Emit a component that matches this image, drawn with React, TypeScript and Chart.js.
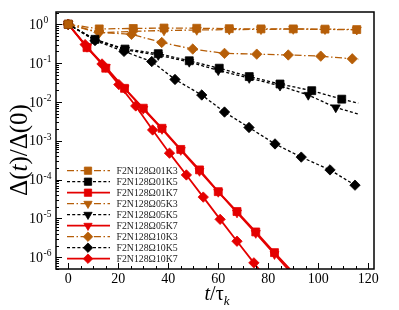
import { useEffect, useRef } from 'react';
import { Chart, registerables } from 'chart.js';
import { drawPoint } from 'chart.js/helpers';
Chart.register(...registerables);

// ---------------- data ----------------
const seriesNames = [
  'F2N128Ω01K3', 'F2N128Ω01K5', 'F2N128Ω01K7',
  'F2N128Ω05K3', 'F2N128Ω05K5', 'F2N128Ω05K7',
  'F2N128Ω10K3', 'F2N128Ω10K5', 'F2N128Ω10K7',
];

// Ω01
const tO01K3 = [0, 12.4, 26, 38.3, 51.4, 64.4, 77.1, 90, 102.7, 115.4];
const vO01K3 = [1, 0.76, 0.78, 0.8, 0.79, 0.77, 0.76, 0.76, 0.75, 0.73];
const tO01K5 = [0, 10.7, 22.7, 36, 48.4, 60.4, 72.4, 84.7, 97.4, 109.4, 116];
const vO01K5 = [1, 0.41, 0.23, 0.175, 0.115, 0.074, 0.045, 0.029, 0.0195, 0.0118, 0.0093];
const tO01K7 = [0, 7.5, 15, 22.5, 30, 37.5, 45, 52.5, 60, 67.5, 75, 82.5, 90];
const vO01K7 = [1, 0.25, 0.074, 0.0224, 0.0069, 0.0021, 6.0e-4, 1.78e-4, 4.9e-5, 1.51e-5, 4.5e-6, 1.32e-6, 4.0e-7];

// Ω05
const tO05K3 = [0, 12.4, 26, 38.3, 51.4, 64.4, 77.1, 90, 102.7, 115.4];
const vO05K3 = [1, 0.6, 0.66, 0.69, 0.71, 0.73, 0.74, 0.75, 0.74, 0.72];
const tO05K5 = [0, 10.7, 22.7, 36, 48.4, 60, 72.4, 84.7, 96, 107, 116];
const vO05K5 = [1, 0.4, 0.22, 0.16, 0.107, 0.065, 0.041, 0.026, 0.0151, 0.0072, 0.0049];
const tO05K7 = [0, 7.5, 15, 22.5, 30, 37.5, 45, 52.5, 60, 67.5, 75, 82.5, 90];
const vO05K7 = [1, 0.26, 0.079, 0.0224, 0.0066, 0.002, 5.75e-4, 1.66e-4, 4.8e-5, 1.41e-5, 4.2e-6, 1.2e-6, 3.5e-7];

// Ω10
const tO10K3 = [0, 12.3, 25.3, 37.4, 49.8, 62.5, 75.4, 88, 101, 113.6, 116];
const vO10K3 = [1, 0.62, 0.55, 0.34, 0.23, 0.178, 0.17, 0.162, 0.151, 0.129, 0.124];
const tO10K5 = [0, 10.7, 22.3, 33.4, 42.7, 53.4, 62.5, 72.3, 82.7, 93.2, 104.7, 114.7];
const vO10K5 = [1, 0.38, 0.2, 0.11, 0.038, 0.0151, 0.0055, 0.0022, 8.3e-4, 3.8e-4, 1.78e-4, 7.2e-5];
const tO10K7 = [0, 6.75, 13.5, 20.25, 27, 33.75, 40.5, 47.25, 54, 60.75, 67.5, 74.25, 81];
const vO10K7 = [1, 0.3, 0.095, 0.028, 0.0079, 0.0019, 4.8e-4, 1.32e-4, 3.55e-5, 9.5e-6, 2.6e-6, 7.2e-7, 2.0e-7];

// number of leading points that carry a marker (rest are line-only)
const markedCount = [10, 10, 12, 10, 10, 12, 10, 12, 12];

const xTicks = [0, 20, 40, 60, 80, 100, 120];
const yDecades = [0, -1, -2, -3, -4, -5, -6];

const BROWN = 'rgb(182,94,8)';
const BLACK = '#000000';
const RED = 'rgb(228,0,0)';

const times = [tO01K3, tO01K5, tO01K7, tO05K3, tO05K5, tO05K7, tO10K3, tO10K5, tO10K7];
const values = [vO01K3, vO01K5, vO01K7, vO05K3, vO05K5, vO05K7, vO10K3, vO10K5, vO10K7];

const kColors = [BROWN, BLACK, RED];
const kDash = [[7, 2.5, 1.5, 2.5], [3, 2.2], []];
const kWidth = [1.3, 1.3, 1.8];
const omegaStyle = [
  { pointStyle: 'rect', radius: 5.6, rotation: 0 },
  { pointStyle: 'triangle', radius: 5.2, rotation: 180 },
  { pointStyle: 'rectRot', radius: 5.2, rotation: 0 },
];

const SERIF = '"Liberation Serif", "Times New Roman", serif';

export default function App() {
  const ref = useRef<HTMLCanvasElement | null>(null);
  useEffect(() => {
    const canvas = ref.current;
    if (!canvas) return;

    const datasets = seriesNames.map((name, i) => {
      const om = Math.floor(i / 3);
      const k = i % 3;
      const st = omegaStyle[om];
      const radii = times[i].map((_, j) => (j < markedCount[i] ? st.radius : 0));
      return {
        label: name,
        data: times[i].map((x, j) => ({ x, y: values[i][j] })),
        borderColor: kColors[k],
        backgroundColor: kColors[k],
        borderWidth: kWidth[k],
        borderDash: kDash[k],
        pointStyle: st.pointStyle,
        pointRotation: st.rotation,
        pointRadius: radii,
        pointBorderWidth: 0.8,
        pointBorderColor: kColors[k],
        pointBackgroundColor: kColors[k],
        pointHoverRadius: radii,
        tension: 0,
        fill: false,
      } as any;
    });

    const decorPlugin = {
      id: 'decor',
      afterDraw(chart: any) {
        const ctx: CanvasRenderingContext2D = chart.ctx;
        const { left, right, top, bottom } = chart.chartArea;
        const xs = chart.scales.x;
        const ys = chart.scales.y;
        ctx.save();
        // frame
        ctx.strokeStyle = '#000';
        ctx.lineWidth = 1.5;
        ctx.setLineDash([]);
        ctx.strokeRect(left, top, right - left, bottom - top);
        // y ticks (inward)
        ctx.lineWidth = 1;
        ctx.beginPath();
        for (let e = -7; e <= 1; e++) {
          for (let m = 1; m <= 9; m++) {
            const v = m * Math.pow(10, e);
            if (v < ys.min || v > ys.max) continue;
            const py = Math.round(ys.getPixelForValue(v)) + 0.5;
            const len = m === 1 ? 6 : 3;
            ctx.moveTo(left, py);
            ctx.lineTo(left + len, py);
          }
        }
        // x ticks (inward)
        for (let v = -5; v <= 125; v += 5) {
          if (v < xs.min || v > xs.max) continue;
          const px = Math.round(xs.getPixelForValue(v)) + 0.5;
          const len = v % 20 === 0 ? 6 : 3;
          ctx.moveTo(px, bottom);
          ctx.lineTo(px, bottom - len);
        }
        ctx.stroke();

        // y tick labels 10^e
        ctx.fillStyle = '#000';
        for (const e of yDecades) {
          const py = ys.getPixelForValue(Math.pow(10, e));
          ctx.font = `14px ${SERIF}`;
          ctx.textAlign = 'right';
          ctx.textBaseline = 'middle';
          ctx.fillText('10', 43, py + 1);
          ctx.font = `9.5px ${SERIF}`;
          ctx.textAlign = 'left';
          ctx.textBaseline = 'alphabetic';
          ctx.fillText(e === 0 ? '0' : '-' + Math.abs(e), 43.5, py - 1);
        }

        // y title (rotated)
        ctx.save();
        ctx.translate(27, 150);
        ctx.rotate(-Math.PI / 2);
        ctx.textBaseline = 'alphabetic';
        const parts: [string, boolean][] = [['Δ(', false], ['t', true], [')/Δ(0)', false]];
        const fsize = 25;
        let total = 0;
        for (const [s, it] of parts) {
          ctx.font = `${it ? 'italic ' : ''}${fsize}px ${SERIF}`;
          total += ctx.measureText(s).width;
        }
        let cx = -total / 2;
        ctx.textAlign = 'left';
        for (const [s, it] of parts) {
          ctx.font = `${it ? 'italic ' : ''}${fsize}px ${SERIF}`;
          ctx.fillText(s, cx, 0);
          cx += ctx.measureText(s).width;
        }
        ctx.restore();

        // x title t/τ_k
        {
          const xParts: [string, string, number][] = [
            ['t', `italic 20px ${SERIF}`, 0],
            ['/', `20px ${SERIF}`, 0],
            ['τ', `20px ${SERIF}`, 0],
            ['k', `italic 13px ${SERIF}`, 5],
          ];
          let w = 0;
          for (const [s, f] of xParts) { ctx.font = f; w += ctx.measureText(s).width; }
          let x0 = (left + right) / 2 - w / 2 + 2;
          const base = 300;
          ctx.textAlign = 'left';
          ctx.textBaseline = 'alphabetic';
          for (const [s, f, dy] of xParts) {
            ctx.font = f;
            ctx.fillText(s, x0, base + dy);
            x0 += ctx.measureText(s).width;
          }
        }

        // legend
        const lx0 = 67, lx1 = 110, mx = 88, tx = 116.5;
        seriesNames.forEach((name, i) => {
          const om = Math.floor(i / 3);
          const k = i % 3;
          const st = omegaStyle[om];
          const y = 170.7 + 11 * i;
          ctx.strokeStyle = kColors[k];
          ctx.fillStyle = kColors[k];
          ctx.lineWidth = kWidth[k];
          ctx.setLineDash(kDash[k]);
          ctx.beginPath();
          ctx.moveTo(lx0, y);
          ctx.lineTo(lx1, y);
          ctx.stroke();
          ctx.setLineDash([]);
          ctx.lineWidth = 0.8;
          drawPoint(ctx, { pointStyle: st.pointStyle as any, rotation: st.rotation, radius: st.radius * 0.92, borderWidth: 0.8 }, mx, y);
          ctx.fillStyle = '#222';
          ctx.font = `9.8px ${SERIF}`;
          ctx.textAlign = 'left';
          ctx.textBaseline = 'middle';
          ctx.fillText(name, tx, y + 0.5);
        });
        ctx.restore();
      },
    };

    const chart = new Chart(canvas, {
      type: 'line',
      data: { datasets },
      options: {
        responsive: false,
        animation: false,
        events: [],
        layout: { padding: { left: 0, top: 12, right: 25, bottom: 0 } },
        plugins: { legend: { display: false }, tooltip: { enabled: false } },
        scales: {
          x: {
            type: 'linear',
            min: -4.9,
            max: 122.3,
            grid: { display: false, drawTicks: false },
            border: { display: false },
            afterBuildTicks: (scale: any) => {
              scale.ticks = xTicks.map((v) => ({ value: v }));
            },
            afterFit: (scale: any) => { scale.height = 41; },
            ticks: {
              color: '#000',
              padding: 2,
              maxRotation: 0,
              autoSkip: false,
              font: { family: SERIF, size: 14 },
            },
          },
          y: {
            type: 'logarithmic',
            min: 5.0e-7,
            max: 2.07,
            grid: { display: false, drawTicks: false },
            border: { display: false },
            ticks: { display: false },
            afterFit: (scale: any) => { scale.width = 56; },
          },
        },
      } as any,
      plugins: [decorPlugin],
    });
    return () => chart.destroy();
  }, []);

  return (
    <div style={{ position: 'fixed', left: 0, top: 0, width: 399, height: 310, background: '#fff' }}>
      <canvas ref={ref} width={399} height={310} style={{ display: 'block' }} />
    </div>
  );
}
